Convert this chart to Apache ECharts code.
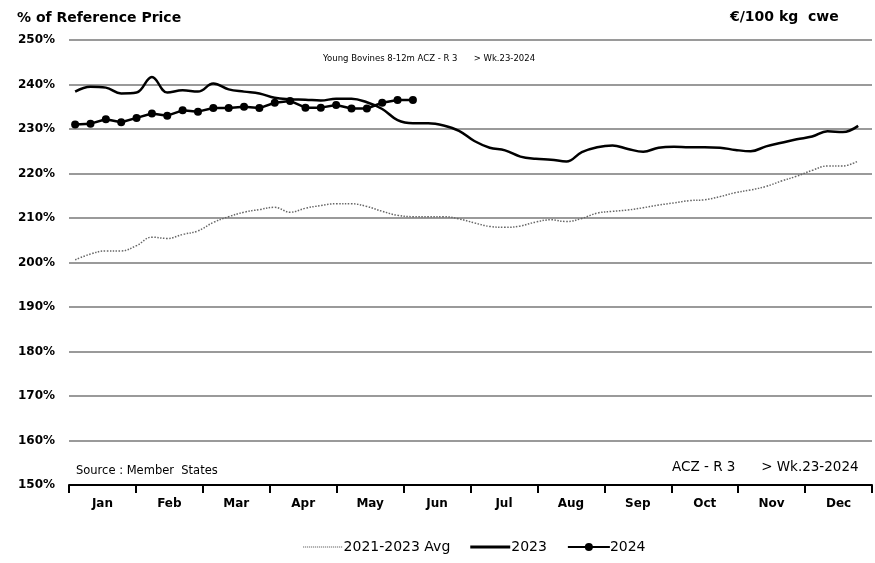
<!DOCTYPE html>
<html><head><meta charset="utf-8">
<script src="https://cdn.jsdelivr.net/npm/echarts@6/dist/echarts.min.js"></script>
<style>html,body{margin:0;padding:0;background:#fff}#c{width:875px;height:563px}</style>
</head><body><div id="c"></div>
<script>
const months = ['Jan','Feb','Mar','Apr','May','Jun','Jul','Aug','Sep','Oct','Nov','Dec'];
const yTicks = [150,160,170,180,190,200,210,220,230,240,250];
const avg2123 = [200.6,201.9,202.6,202.6,203.8,205.7,205.4,206.3,207.1,209.0,210.3,211.3,211.9,212.4,211.3,212.2,212.8,213.2,213.2,212.6,211.5,210.6,210.3,210.3,210.3,209.8,208.9,208.1,207.9,208.2,209.1,209.6,209.2,209.9,211.1,211.5,211.8,212.3,212.9,213.4,213.9,214.1,214.8,215.7,216.3,217.1,218.3,219.4,220.7,221.7,221.7,222.8];
const y2023 = [238.4,239.5,239.3,238.0,238.2,241.7,238.2,238.7,238.4,240.2,238.9,238.4,238.0,237.0,236.7,236.6,236.4,236.8,236.8,236.0,234.5,232.0,231.3,231.3,230.8,229.6,227.3,225.8,225.2,223.8,223.3,223.1,222.7,224.8,225.9,226.3,225.5,224.9,225.8,226.0,225.9,225.9,225.8,225.3,225.0,226.1,226.9,227.7,228.3,229.5,229.3,230.7];
const y2024 = [231.0,231.2,232.2,231.5,232.5,233.5,233.0,234.2,233.9,234.7,234.7,235.0,234.7,235.9,236.3,234.8,234.8,235.4,234.6,234.6,235.9,236.5,236.5];
const weeks = y2023.map((_, i) => i + 1);

const bold = '"DejaVu Sans", "Liberation Sans", Arial, sans-serif';
const font = '"DejaVu Sans", "Liberation Sans", Arial, sans-serif';

// legend icon shapes (tiny corner points keep the icon's vertical box)
let dots = 'path://M0,0h0.01v0.01h-0.01z M0,10h0.01v0.01h-0.01z';
for (let i = 0; i < 20; i++) dots += ' M' + (i * 2) + ',4.3h1.2v1.4h-1.2z';
const solid = 'path://M0,0h0.01v0.01h-0.01z M0,10h0.01v0.01h-0.01z M0,3.5h40v3h-40z';

const chart = echarts.init(document.getElementById('c'));
chart.setOption({
  animation: false,
  backgroundColor: '#fff',
  textStyle: {fontFamily: font},
  title: [
    {text: '% of Reference Price', left: 12, top: 6, textStyle: {fontSize: 14, fontWeight: 'bold', color: '#000', fontFamily: bold}},
    {text: '€/100 kg  cwe', left: 725, top: 5, textStyle: {fontSize: 14, fontWeight: 'bold', color: '#000', fontFamily: bold}},
    {text: 'Young Bovines 8-12m ACZ - R 3      > Wk.23-2024', left: 318, top: 49, textStyle: {fontSize: 8.5, fontWeight: 'normal', color: '#000', fontFamily: font}},
    {text: 'Source : Member  States', left: 71, top: 460, textStyle: {fontSize: 11.5, fontWeight: 'normal', color: '#000', fontFamily: font}},
    {text: 'ACZ - R 3      > Wk.23-2024', left: 667, top: 455, textStyle: {fontSize: 13.5, fontWeight: 'normal', color: '#000', fontFamily: font}}
  ],
  legend: {
    bottom: 4, left: 298, itemGap: 20, itemWidth: 42, itemHeight: 10,
    textStyle: {fontSize: 14, color: '#000', fontFamily: font, padding: [0, 0, 0, -5]},
    data: [
      {name: '2021-2023 Avg', icon: dots, itemStyle: {color: '#999'}},
      {name: '2023', icon: solid, itemStyle: {color: '#000'}},
      {name: '2024'}
    ]
  },
  grid: {left: 69, right: 3, top: 40, bottom: 78},
  xAxis: [
    {type: 'category', data: months, boundaryGap: true, position: 'bottom',
     axisLine: {show: true, lineStyle: {color: '#000', width: 2}},
     axisTick: {show: true, alignWithLabel: false, length: 8, lineStyle: {color: '#000', width: 2}},
     axisLabel: {color: '#000', fontSize: 12, fontWeight: 'bold', margin: 13, fontFamily: bold},
     splitLine: {show: false}},
    {type: 'value', min: 0.6, max: 52.9, show: false}
  ],
  yAxis: {
    type: 'value', min: yTicks[0], max: yTicks[yTicks.length - 1], interval: 10,
    axisLine: {show: false}, axisTick: {show: false},
    axisLabel: {formatter: '{value}%', color: '#000', fontSize: 12, fontWeight: 'bold', margin: 14, fontFamily: bold},
    splitLine: {show: true, lineStyle: {color: '#9a9a9a', width: 2}}
  },
  series: [
    {name: '2021-2023 Avg', type: 'line', xAxisIndex: 1, smooth: 0.4, showSymbol: false, symbol: 'none',
     data: weeks.map((w, i) => [w, avg2123[i]]),
     lineStyle: {color: '#666', width: 1.5, type: 'dotted'}, itemStyle: {color: '#666'}, z: 2},
    {name: '2023', type: 'line', xAxisIndex: 1, smooth: 0.4, showSymbol: false, symbol: 'none',
     data: weeks.map((w, i) => [w, y2023[i]]),
     lineStyle: {color: '#000', width: 2.5}, itemStyle: {color: '#000'}, z: 3},
    {name: '2024', type: 'line', xAxisIndex: 1, smooth: false, symbol: 'circle', symbolSize: 8,
     data: y2024.map((v, i) => [i + 1, v]),
     lineStyle: {color: '#000', width: 2.5}, itemStyle: {color: '#000'}, z: 4}
  ]
});
</script></body></html>
